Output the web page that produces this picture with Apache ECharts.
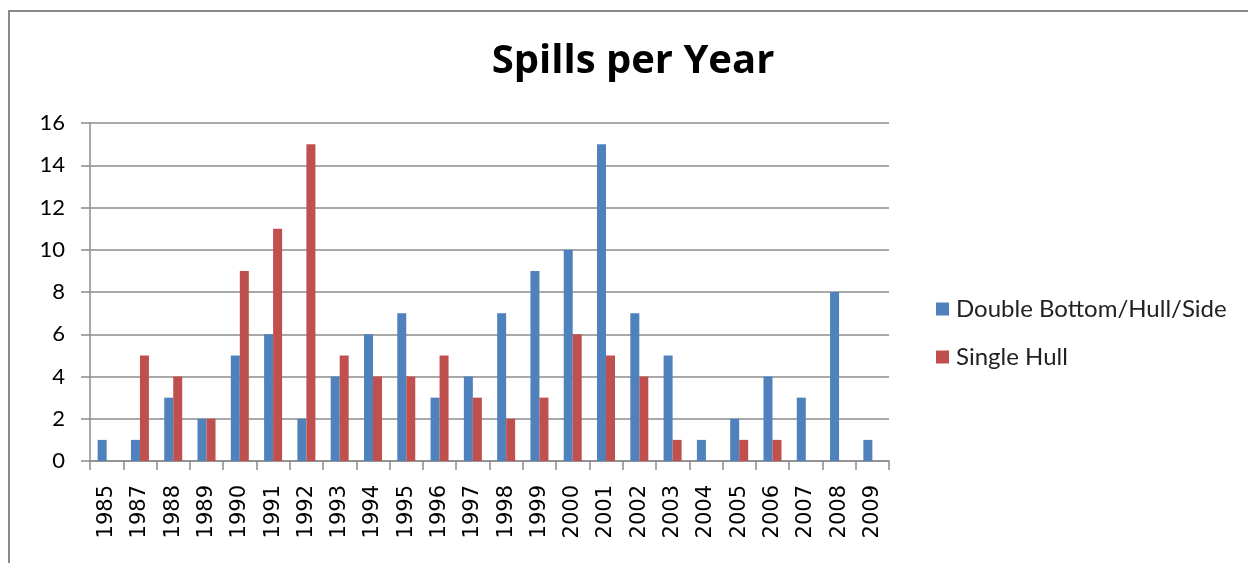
<!DOCTYPE html>
<html>
<head>
<meta charset="utf-8">
<script src="https://cdn.jsdelivr.net/npm/echarts@6/dist/echarts.min.js"></script>
<style>
  html, body { margin: 0; padding: 0; background: #fff; }
  #main { width: 1248px; height: 563px; }
</style>
</head>
<body>
<div id="main"></div>
<script>
// data
var years = ['1985', '1987', '1988', '1989', '1990', '1991', '1992', '1993', '1994', '1995', '1996', '1997',
             '1998', '1999', '2000', '2001', '2002', '2003', '2004', '2005', '2006', '2007', '2008', '2009'];
var doubleHull = [1, 1, 3, 2, 5, 6, 2, 4, 6, 7, 3, 4, 7, 9, 10, 15, 7, 5, 1, 2, 4, 3, 8, 1];
var singleHull = [0, 5, 4, 2, 9, 11, 15, 5, 4, 4, 5, 3, 2, 3, 6, 5, 4, 1, 0, 1, 1, 0, 0, 0];
var yTicks = [0, 2, 4, 6, 8, 10, 12, 14, 16];

var myChart = echarts.init(document.getElementById('main'));

var gridColor = '#8c8c8c';

var option = {
    animation: false,
    backgroundColor: '#fff',
    // frame of the chart area
    graphic: [{
        type: 'rect',
        shape: { x: 9, y: 11, width: 1300, height: 700 },
        style: { fill: 'none', stroke: '#8a8a8a', lineWidth: 2 }
    }],
    title: {
        text: 'Spills per Year',
        left: 628,
        top: 37,
        textAlign: 'center',
        textStyle: { fontFamily: 'Open Sans', fontWeight: 'bold', fontSize: 40, color: '#000' }
    },
    legend: {
        orient: 'vertical',
        left: 931,
        top: 292,
        itemWidth: 13,
        itemHeight: 13,
        itemGap: 24,
        icon: 'rect',
        textStyle: { fontFamily: 'Lato', fontSize: 24, color: '#222', padding: [0, 0, 0, 2] },
        data: ['Double Bottom/Hull/Side', 'Single Hull']
    },
    grid: { left: 90, right: 359, top: 123, bottom: 102, containLabel: false },
    xAxis: {
        type: 'category',
        data: years,
        axisLine: { lineStyle: { color: gridColor, width: 1.5 } },
        axisTick: { show: true, length: 9, lineStyle: { color: gridColor, width: 1.5 } },
        axisLabel: {
            rotate: 90, margin: 24, interval: 0,
            fontFamily: 'DejaVu Sans', fontSize: 21, color: '#000'
        }
    },
    yAxis: {
        type: 'value',
        min: yTicks[0],
        max: yTicks[yTicks.length - 1],
        interval: 2,
        axisLine: { show: true, lineStyle: { color: gridColor, width: 1.5 } },
        axisTick: { show: true, length: 9, lineStyle: { color: gridColor, width: 1.5 } },
        splitLine: { lineStyle: { color: gridColor, width: 1.5 } },
        axisLabel: { margin: 25, fontFamily: 'Lato', fontSize: 22, color: '#000' }
    },
    series: [{
        name: 'Double Bottom/Hull/Side',
        type: 'bar',
        data: doubleHull,
        barWidth: 9,
        barGap: '0%',
        itemStyle: { color: '#4F81BD' }
    }, {
        name: 'Single Hull',
        type: 'bar',
        data: singleHull,
        barWidth: 9,
        barGap: '0%',
        itemStyle: { color: '#C0504D' }
    }]
};

myChart.setOption(option);
</script>
</body>
</html>
